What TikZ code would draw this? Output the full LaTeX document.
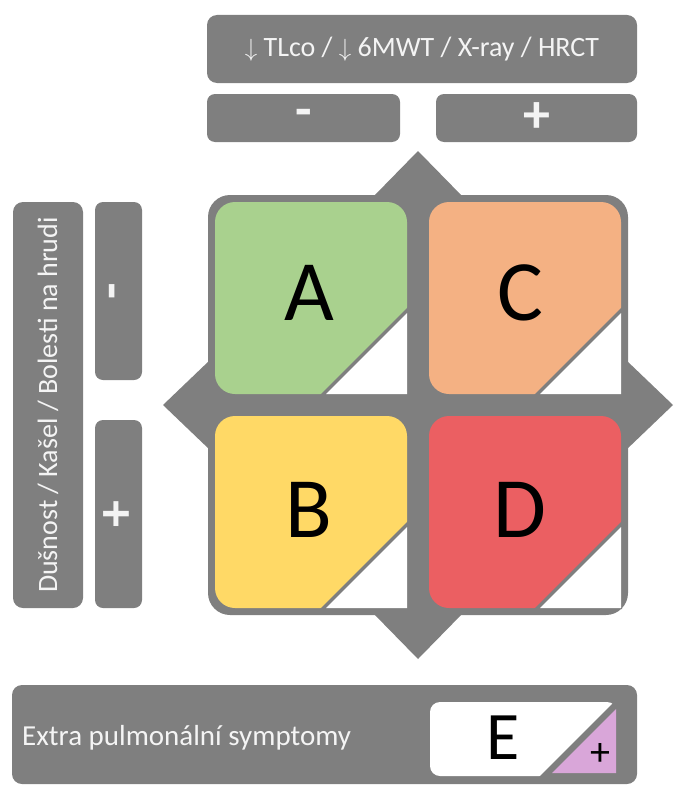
\documentclass[tikz,border=0pt]{standalone}
\usepackage{fontspec}
\setmainfont{Carlito}
\usepackage{tikz}
\usepackage{xcolor}
\definecolor{BoxGray}{HTML}{7F7F7F}
\definecolor{BoxText}{HTML}{F4F4F4}
\definecolor{GroupA}{HTML}{A9D18E}
\definecolor{GroupB}{HTML}{FFD966}
\definecolor{GroupC}{HTML}{F4B183}
\definecolor{GroupD}{HTML}{EB5F62}
\definecolor{GroupE}{HTML}{D9A6D9}
\tikzstyle{GrayBar}=[fill=BoxGray, rounded corners=10pt, inner sep=0pt, text=BoxText, font=\fontsize{28}{28}\selectfont]
\tikzstyle{SignBox}=[fill=BoxGray, rounded corners=8pt, inner sep=0pt, text=BoxText, font=\fontsize{54}{54}\selectfont\bfseries]
\tikzstyle{GroupLetter}=[inner sep=0pt, font=\fontsize{86}{86}\selectfont]
\tikzstyle{cutCorner}=[fill=BoxGray]
\tikzstyle{whiteCorner}=[fill=white]

\begin{document}
\begin{tikzpicture}[x=1pt, y=-1pt]
        \useasboundingbox (0,0) rectangle (684,800);

        % Top axis
        \node[GrayBar, minimum width=430pt, minimum height=68pt] (topBar) at (422,49) {$\downarrow$ TLco / $\downarrow$ 6MWT / X-ray / HRCT};
        \node[SignBox, minimum width=193pt, minimum height=48pt] (topMinus) at (303.5,118) {-};
        \node[SignBox, minimum width=201pt, minimum height=48pt] (topPlus) at (536.5,118) {+};

        % Left axis
        \node[GrayBar, rotate=90, minimum width=406pt, minimum height=70pt] (leftBar) at (48,405) {Dušnost / Kašel / Bolesti na hrudi};
        \node[SignBox, rotate=90, minimum width=178pt, minimum height=47pt] (leftMinus) at (118.5,291) {-};
        \node[SignBox, rotate=90, minimum width=188pt, minimum height=47pt] (leftPlus) at (118.5,514) {+};

        % Frame with tips
        \fill[BoxGray, rounded corners=22pt] (208,195) rectangle (628,615);
        \fill[BoxGray] (373,197) -- (418,151) -- (463,197) -- cycle;
        \fill[BoxGray] (373,613) -- (418,659) -- (463,613) -- cycle;
        \fill[BoxGray] (210,360) -- (163,405) -- (210,450) -- cycle;
        \fill[BoxGray] (626,360) -- (673,405) -- (626,450) -- cycle;

        % Quadrants
        \fill[GroupA, rounded corners=20pt] (215,202) rectangle (407,394);
        \fill[cutCorner] (408,307) -- (408,395) -- (320,395) -- cycle;
        \fill[whiteCorner] (407,313) -- (407,394) -- (326,394) -- cycle;

        \fill[GroupC, rounded corners=20pt] (429,202) rectangle (621,394);
        \fill[cutCorner] (622,307) -- (622,395) -- (534,395) -- cycle;
        \fill[whiteCorner] (621,313) -- (621,394) -- (540,394) -- cycle;

        \fill[GroupB, rounded corners=20pt] (215,416) rectangle (407,608);
        \fill[cutCorner] (408,521) -- (408,609) -- (320,609) -- cycle;
        \fill[whiteCorner] (407,527) -- (407,608) -- (326,608) -- cycle;

        \fill[GroupD, rounded corners=20pt] (429,416) rectangle (621,608);
        \fill[cutCorner] (622,521) -- (622,609) -- (534,609) -- cycle;
        \fill[whiteCorner] (621,527) -- (621,608) -- (540,608) -- cycle;

        \node[GroupLetter] (letterA) at (309,293) {A};
        \node[GroupLetter] (letterC) at (520,293) {C};
        \node[GroupLetter] (letterB) at (309,510) {B};
        \node[GroupLetter] (letterD) at (520,510) {D};

        % Extra pulmonary bar
        \node[GrayBar, minimum width=625pt, minimum height=99pt] (bottomBar) at (324.5,734.5) {};
        \node[text=BoxText, font=\fontsize{29}{29}\selectfont, anchor=base west, inner sep=0pt] (bottomText) at (22,745) {Extra pulmonální symptomy};
        \fill[white, rounded corners=10pt] (430,702) rectangle (617,776);
        \fill[cutCorner] (618,698) -- (618,778) -- (538,778) -- cycle;
        \fill[GroupE] (616,709) -- (616,773) -- (552,773) -- cycle;
        \node[inner sep=0pt, font=\fontsize{68}{68}\selectfont] (letterE) at (503,738) {E};
        \node[inner sep=0pt, font=\fontsize{40}{40}\selectfont] (plusE) at (600,754) {+};

\end{tikzpicture}
\end{document}
